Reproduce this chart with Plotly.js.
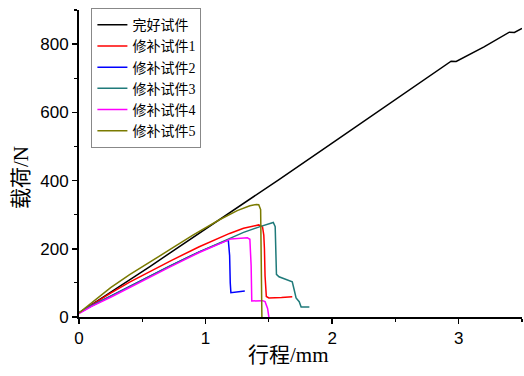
<!DOCTYPE html>
<html>
<head>
<meta charset="utf-8">
<script src="https://cdn.plot.ly/plotly-3.0.1.min.js"></script>
<style>html,body{margin:0;padding:0;background:#fff;}#chart{width:524px;height:376px;}</style>
</head>
<body>
<div id="chart"></div>
<script>
// Series names
const names = ["完好试件", "修补试件1", "修补试件2", "修补试件3", "修补试件4", "修补试件5"];
const colors = ["#000000", "#ff0000", "#0000ff", "#1f7a7a", "#ff00ff", "#7a7a00"];
const xTitle = "行程/mm";
const yTitle = "载荷/N";

// 完好试件
const x0 = [0, 0.25, 0.56, 0.72, 1.11, 1.58, 2.0, 2.5, 2.94, 2.98, 3.2, 3.4, 3.44, 3.5];
const y0 = [12, 72, 148, 188, 285, 403, 510, 638, 750, 749, 792, 835, 834, 846];

// 修补试件1
const x1 = [0, 0.1, 0.25, 0.4, 0.56, 0.72, 0.95, 1.19, 1.3, 1.38, 1.42, 1.45, 1.46, 1.465, 1.47, 1.48, 1.5, 1.6, 1.685];
const y1 = [12, 36, 70, 102, 133, 164, 206, 245, 260, 268, 270, 264, 240, 200, 120, 60, 56, 57, 59];

// 修补试件2
const x2 = [0, 0.1, 0.25, 0.4, 0.56, 0.72, 0.95, 1.1, 1.17, 1.18, 1.19, 1.195, 1.2, 1.31];
const y2 = [12, 33, 61, 90, 119, 150, 191, 214, 225, 224, 180, 100, 71, 76];

// 修补试件3
const x3 = [0, 0.1, 0.25, 0.4, 0.56, 0.72, 0.95, 1.17, 1.3, 1.43, 1.5, 1.535, 1.55, 1.555, 1.56, 1.58, 1.685, 1.7, 1.715, 1.74, 1.755, 1.82];
const y3 = [12, 33, 61, 90, 119, 150, 191, 226, 248, 265, 274, 277, 265, 200, 125, 118, 103, 80, 56, 45, 29, 29];

// 修补试件4
const x4 = [0, 0.1, 0.25, 0.4, 0.56, 0.72, 0.95, 1.1, 1.2, 1.33, 1.35, 1.36, 1.365, 1.45, 1.47, 1.49, 1.5];
const y4 = [10, 31, 58, 87, 116, 147, 189, 213, 229, 232, 228, 150, 47, 48, 45, 25, 0];

// 修补试件5
const x5 = [0, 0.1, 0.25, 0.4, 0.56, 0.72, 0.9, 1.11, 1.25, 1.35, 1.40, 1.42, 1.435, 1.44, 1.445];
const y5 = [12, 42, 86, 124, 162, 198, 240, 285, 312, 326, 330, 329, 315, 200, 0];

const xs = [x0, x1, x2, x3, x4, x5];
const ys = [y0, y1, y2, y3, y4, y5];

const traces = xs.map((x, i) => ({
  x: x, y: ys[i], type: "scatter", mode: "lines", name: names[i],
  line: {color: colors[i], width: 1.5}
}));

const tickFont = {family: "Liberation Sans, Arial, sans-serif", size: 17, color: "#000"};
const cjkFont = "Liberation Serif, Noto Sans CJK SC, serif";

const layout = {
  width: 524, height: 376,
  margin: {l: 79, r: 2, t: 10, b: 59},
  paper_bgcolor: "#fff", plot_bgcolor: "#fff",
  showlegend: true,
  legend: {
    x: 0.028, y: 1.006, xanchor: "left", yanchor: "top",
    bgcolor: "#fff", bordercolor: "#888", borderwidth: 1,
    font: {family: cjkFont, size: 14, color: "#000"},
    tracegroupgap: 0
  },
  xaxis: {
    range: [0, 3.5], dtick: 1, tick0: 0,
    showgrid: false, zeroline: false,
    showline: true, linecolor: "#000", linewidth: 2,
    ticks: "outside", ticklen: 5, tickwidth: 1.5, tickcolor: "#000",
    minor: {dtick: 0.5, ticks: "outside", ticklen: 3, tickwidth: 1.2, tickcolor: "#000"},
    tickfont: tickFont
  },
  yaxis: {
    range: [0, 900], dtick: 200, tick0: 0,
    showgrid: false, zeroline: false,
    showline: true, linecolor: "#000", linewidth: 2,
    ticks: "outside", ticklen: 5, tickwidth: 1.5, tickcolor: "#000",
    minor: {dtick: 100, ticks: "outside", ticklen: 3, tickwidth: 1.2, tickcolor: "#000"},
    tickfont: tickFont
  },
  annotations: [
    {text: xTitle, xref: "paper", yref: "paper", x: 0.472, y: -0.124,
     xanchor: "center", yanchor: "middle", showarrow: false,
     font: {family: cjkFont, size: 21, color: "#000"}},
    {text: yTitle, xref: "paper", yref: "paper", x: -0.131, y: 0.456,
     xanchor: "center", yanchor: "middle", showarrow: false, textangle: -90,
     font: {family: cjkFont, size: 21, color: "#000"}}
  ]
};

Plotly.newPlot("chart", traces, layout, {staticPlot: true, displayModeBar: false});
</script>
</body>
</html>
